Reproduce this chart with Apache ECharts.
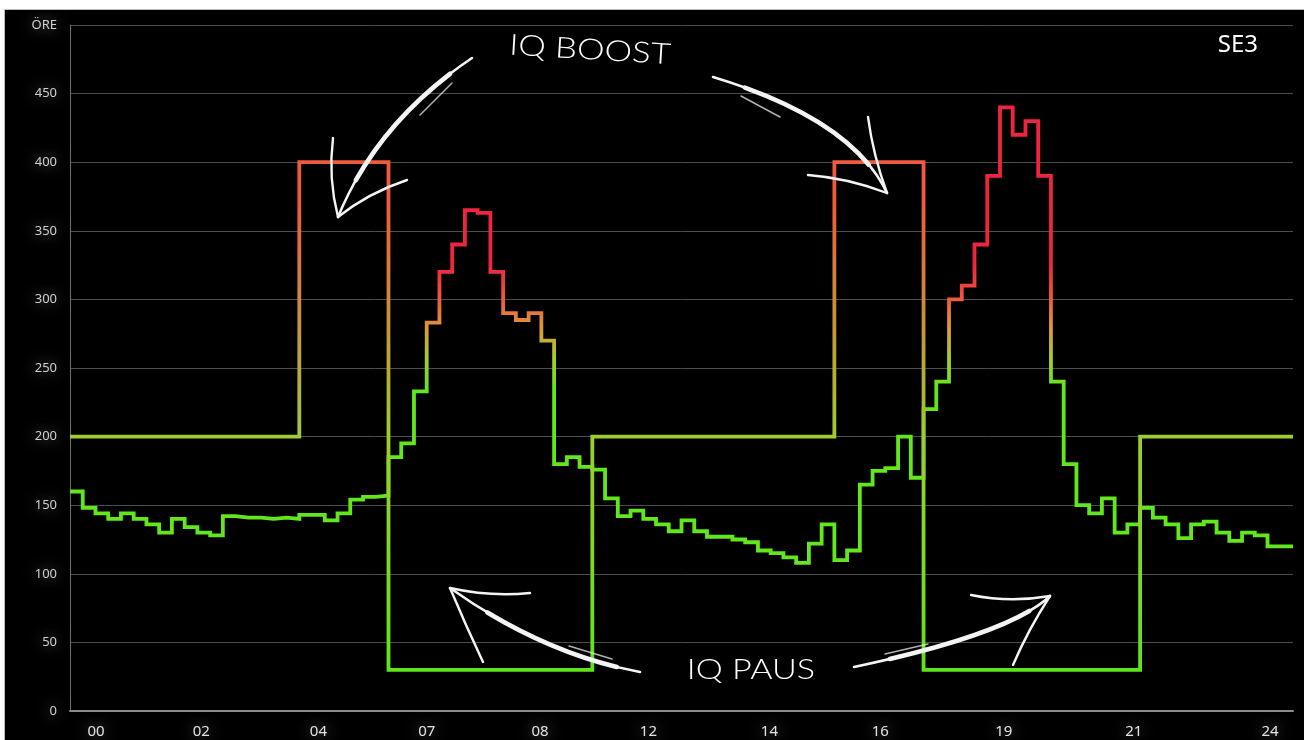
<!DOCTYPE html>
<html>
<head>
<meta charset="utf-8">
<script src="https://cdn.jsdelivr.net/npm/echarts@6/dist/echarts.min.js"></script>
<style>
  html, body { margin: 0; padding: 0; background: #ffffff; }
  #bg { position: absolute; left: 5px; top: 10px; width: 1299px; height: 730px; background: #000; box-shadow: 0 0 0 1px #bdbdbd; }
  #chart { position: absolute; left: 0; top: 0; width: 1304px; height: 740px; }
</style>
</head>
<body>
<div id="bg"></div>
<div id="chart"></div>
<script>
// Quarter-hour slots (96 per day)
const priceValues = [
  160, 148, 144, 140, 144, 140, 136, 130, 140, 134,
  130, 128, 142, 141, 141, 140, 141, 140, 143, 143,
  139, 144, 154, 156, 157, 185, 195, 233, 283, 320,
  340, 365, 363, 320, 290, 285, 290, 270, 180, 185,
  178, 176, 155, 142, 146, 140, 136, 131, 139, 131,
  127, 127, 125, 123, 117, 115, 112, 108, 122, 136,
  110, 117, 165, 175, 177, 200, 170, 220, 240, 300,
  310, 340, 390, 440, 420, 430, 390, 240, 180, 150,
  144, 155, 130, 136, 148, 141, 136, 126, 136, 138,
  130, 124, 130, 128, 120, 120
];
const iqValues = [
  200, 200, 200, 200, 200, 200, 200, 200, 200, 200,
  200, 200, 200, 200, 200, 200, 200, 200, 400, 400,
  400, 400, 400, 400, 400, 30, 30, 30, 30, 30,
  30, 30, 30, 30, 30, 30, 30, 30, 30, 30,
  30, 200, 200, 200, 200, 200, 200, 200, 200, 200,
  200, 200, 200, 200, 200, 200, 200, 200, 200, 200,
  400, 400, 400, 400, 400, 400, 400, 30, 30, 30,
  30, 30, 30, 30, 30, 30, 30, 30, 30, 30,
  30, 30, 30, 30, 200, 200, 200, 200, 200, 200,
  200, 200, 200, 200, 200, 200
];
const xTickPositions = [2.04, 10.3, 19.5, 28.0, 36.9, 45.4, 54.9, 63.6, 73.3, 83.5, 94.2];
const xTickLabels = ['00', '02', '04', '07', '08', '12', '14', '16', '19', '21', '24'];
const yTickLabels = ['0', '50', '100', '150', '200', '250', '300', '350', '400', '450', 'ÖRE'];

function toSteps(vals) {
  const d = vals.map((v, i) => [i, v]);
  d.push([vals.length, vals[vals.length - 1]]);
  return d;
}

const glow = { textShadowColor: 'rgba(255,255,255,0.5)', textShadowBlur: 14 };

const chart = echarts.init(document.getElementById('chart'), null, { renderer: 'canvas' });

const white = '#f4f4f4';
// quadratic hand-drawn stroke: p0 -> p2 with control c
function stroke(p0, c, p2, w, col) {
  return {
    type: 'bezierCurve', z: 100,
    shape: { x1: p0[0], y1: p0[1], x2: p2[0], y2: p2[1], cpx1: c[0], cpy1: c[1] },
    style: { stroke: col || white, lineWidth: w, lineCap: 'round', fill: null }
  };
}
// thick main curve, drawn as thin full-length + thicker middle to suggest taper
function mainCurve(p0, c, p2) {
  // sub-curve from t=0.15 to t=0.85 via de Casteljau
  function pt(t) {
    const a = (1 - t) * (1 - t), b = 2 * t * (1 - t), d = t * t;
    return [a * p0[0] + b * c[0] + d * p2[0], a * p0[1] + b * c[1] + d * p2[1]];
  }
  function sub(t0, t1) {
    const s = pt(t0), e = pt(t1);
    // control of subsegment
    const cx = (1 - t0) * ((1 - t1) * p0[0] + t1 * c[0]) + t0 * ((1 - t1) * c[0] + t1 * p2[0]);
    const cy = (1 - t0) * ((1 - t1) * p0[1] + t1 * c[1]) + t0 * ((1 - t1) * c[1] + t1 * p2[1]);
    return [s, [cx, cy], e];
  }
  const m = sub(0.12, 0.8);
  return [
    stroke(p0, c, p2, 2.6),
    stroke(m[0], m[1], m[2], 4.6)
  ];
}
function thin(p1, p2) {
  return {
    type: 'line', z: 100,
    shape: { x1: p1[0], y1: p1[1], x2: p2[0], y2: p2[1] },
    style: { stroke: 'rgba(235,235,235,0.75)', lineWidth: 1.5, lineCap: 'round' }
  };
}

const graphics = [
  {
    type: 'text', z: 100, x: 1258, y: 45,
    style: { text: 'SE3', fill: '#ffffff', font: '24px "Noto Sans"', textAlign: 'right', textVerticalAlign: 'middle' }
  },
  {
    type: 'text', z: 100, x: 590, y: 50, rotation: -0.06, scaleX: 1.2,
    style: { text: 'IQ BOOST', fill: '#ffffff', font: '300 29px Lato', textAlign: 'center', textVerticalAlign: 'middle' }
  },
  {
    type: 'text', z: 100, x: 751, y: 670, scaleX: 1.22,
    style: { text: 'IQ PAUS', fill: '#ffffff', font: '300 28px Lato', textAlign: 'center', textVerticalAlign: 'middle' }
  }
];
// arrow 1 (IQ BOOST -> left box)
graphics.push(...mainCurve([472, 58], [377, 122], [338, 217]));
graphics.push(stroke([338, 217], [328, 178], [333, 138], 2.4));
graphics.push(stroke([338, 217], [368, 193], [407, 180], 2.4));
graphics.push(thin([452, 83], [420, 115]));
// arrow 2 (IQ BOOST -> right box)
graphics.push(...mainCurve([713, 77], [852, 119], [887, 193]));
graphics.push(stroke([887, 193], [873, 155], [868, 117], 2.4));
graphics.push(stroke([887, 193], [848, 178], [808, 175], 2.4));
graphics.push(thin([741, 96], [780, 117]));
// arrow 3 (IQ PAUS -> left)
graphics.push(...mainCurve([640, 672], [543, 654], [450, 588]));
graphics.push(stroke([450, 588], [466, 626], [483, 662], 2.4));
graphics.push(stroke([450, 588], [490, 597], [530, 593], 2.4));
graphics.push(thin([569, 646], [612, 659]));
// arrow 4 (IQ PAUS -> right)
graphics.push(...mainCurve([854, 667], [1010, 634], [1050, 596]));
graphics.push(stroke([1050, 596], [1010, 603], [971, 595], 2.4));
graphics.push(stroke([1050, 596], [1028, 630], [1013, 665], 2.4));
graphics.push(thin([885, 654], [928, 644]));

chart.setOption({
  backgroundColor: 'transparent',
  animation: false,
  grid: { left: 70, right: 11, top: 25, bottom: 29, containLabel: false },
  xAxis: {
    type: 'value', min: 0, max: 96,
    axisLine: { show: true, lineStyle: { color: '#8a8a8a', width: 2 } },
    axisTick: { show: false },
    splitLine: { show: false },
    axisLabel: {
      customValues: xTickPositions,
      margin: 13,
      color: '#e2e2e2', fontSize: 15, fontFamily: 'Noto Sans',
      ...glow,
      formatter: function (v) {
        let best = 0, bd = 1e9;
        xTickPositions.forEach((p, i) => { const d = Math.abs(p - v); if (d < bd) { bd = d; best = i; } });
        return xTickLabels[best];
      }
    }
  },
  yAxis: {
    type: 'value', min: 0, max: 500, interval: 50,
    axisLine: { show: true, lineStyle: { color: '#6e6e6e', width: 1 } },
    axisTick: { show: false },
    splitLine: { show: true, lineStyle: { color: '#4c4c4c', width: 1 } },
    axisLabel: {
      margin: 13, color: '#cfcfcf', fontSize: 13, fontFamily: 'Noto Sans',
      ...glow,
      formatter: function (v) { return yTickLabels[Math.round(v / 50)]; }
    }
  },
  visualMap: [
    {
      type: 'continuous', show: false, seriesIndex: 0, dimension: 1,
      min: 30, max: 370,
      inRange: { color: ['#5fe41c', '#a0cc2e', '#f05a3e'] }
    },
    {
      type: 'continuous', show: false, seriesIndex: 1, dimension: 1,
      min: 235, max: 325,
      inRange: { color: ['#62e61c', '#a6cc2c', '#e0953a', '#f0543e', '#f0243f'] }
    }
  ],
  series: [
    {
      name: 'IQ', type: 'line', step: 'end', showSymbol: false, symbol: 'none',
      data: toSteps(iqValues),
      lineStyle: { width: 3.8, join: 'miter' },
      z: 3
    },
    {
      name: 'Pris', type: 'line', step: 'end', showSymbol: false, symbol: 'none',
      data: toSteps(priceValues),
      lineStyle: { width: 3.8, join: 'miter' },
      z: 2
    }
  ],
  graphic: graphics
});
</script>
</body>
</html>
